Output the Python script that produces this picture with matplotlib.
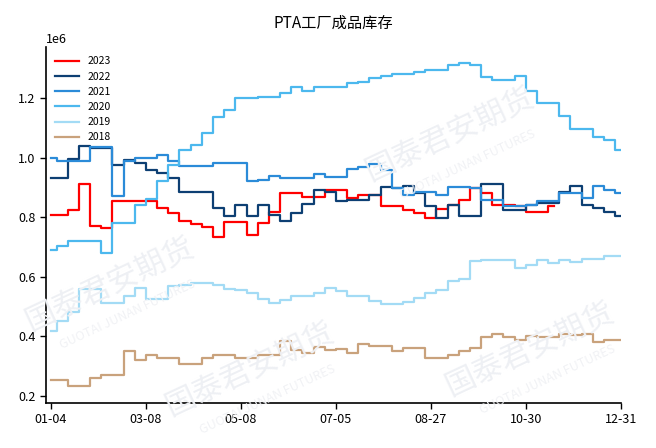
import numpy as np
import matplotlib
matplotlib.use("Agg")
import matplotlib.pyplot as plt

plt.rcParams['font.family'] = ['Noto Sans CJK SC', 'DejaVu Sans']
plt.rcParams['axes.unicode_minus'] = False

title = "PTA工厂成品库存"
tick_labels = ["01-04", "03-08", "05-08", "07-05", "08-27", "10-30", "12-31"]
n_weeks = 52

y2023 = [0.807, 0.807, 0.825, 0.910, 0.771, 0.765, 0.853, 0.853, 0.853, 0.855,
         0.830, 0.815, 0.786, 0.777, 0.767, 0.735, 0.785, 0.785, 0.741, 0.780,
         0.819, 0.881, 0.881, 0.869, 0.869, 0.892, 0.892, 0.864, 0.875, 0.875,
         0.836, 0.836, 0.825, 0.814, 0.797, 0.827, 0.842, 0.858, 0.897, 0.881,
         0.842, 0.842, 0.836, 0.819, 0.819, 0.836]
y2022 = [0.931, 0.931, 0.995, 1.040, 1.032, 1.032, 0.974, 0.992, 0.981, 0.959,
         0.948, 0.931, 0.883, 0.883, 0.883, 0.830, 0.805, 0.842, 0.805, 0.842,
         0.808, 0.786, 0.814, 0.845, 0.892, 0.886, 0.853, 0.858, 0.858, 0.875,
         0.901, 0.897, 0.903, 0.881, 0.838, 0.797, 0.842, 0.805, 0.805, 0.911,
         0.911, 0.825, 0.825, 0.842, 0.847, 0.847, 0.886, 0.905, 0.842, 0.830,
         0.819, 0.805]
y2021 = [0.998, 0.990, 0.990, 0.990, 1.035, 1.035, 0.872, 0.990, 0.998, 0.998,
         1.009, 0.987, 0.972, 0.972, 0.972, 0.981, 0.981, 0.981, 0.920, 0.925,
         0.939, 0.931, 0.931, 0.931, 0.945, 0.934, 0.934, 0.961, 0.968, 0.978,
         0.959, 0.897, 0.875, 0.883, 0.883, 0.875, 0.901, 0.901, 0.897, 0.858,
         0.858, 0.838, 0.836, 0.842, 0.853, 0.853, 0.881, 0.881, 0.864, 0.903,
         0.892, 0.881]
y2020 = [0.690, 0.702, 0.719, 0.719, 0.719, 0.680, 0.780, 0.780, 0.842, 0.860,
         0.920, 0.976, 1.026, 1.043, 1.084, 1.137, 1.160, 1.199, 1.199, 1.204,
         1.204, 1.218, 1.236, 1.224, 1.238, 1.238, 1.238, 1.249, 1.255, 1.266,
         1.274, 1.280, 1.280, 1.288, 1.294, 1.294, 1.311, 1.318, 1.311, 1.271,
         1.259, 1.259, 1.274, 1.224, 1.184, 1.184, 1.140, 1.095, 1.095, 1.068,
         1.059, 1.026]
y2019 = [0.417, 0.451, 0.481, 0.559, 0.559, 0.512, 0.512, 0.537, 0.562, 0.526,
         0.526, 0.568, 0.571, 0.579, 0.579, 0.574, 0.559, 0.557, 0.546, 0.526,
         0.512, 0.521, 0.537, 0.537, 0.546, 0.564, 0.551, 0.534, 0.534, 0.518,
         0.510, 0.510, 0.514, 0.529, 0.546, 0.557, 0.585, 0.593, 0.652, 0.657,
         0.655, 0.655, 0.629, 0.640, 0.657, 0.646, 0.655, 0.648, 0.660, 0.660,
         0.671, 0.671]
y2018 = [0.253, 0.253, 0.233, 0.233, 0.261, 0.272, 0.272, 0.352, 0.322, 0.339,
         0.328, 0.328, 0.308, 0.308, 0.328, 0.336, 0.336, 0.328, 0.328, 0.336,
         0.336, 0.384, 0.356, 0.345, 0.365, 0.356, 0.359, 0.345, 0.375, 0.369,
         0.369, 0.352, 0.360, 0.360, 0.328, 0.328, 0.339, 0.350, 0.361, 0.398,
         0.408, 0.398, 0.389, 0.400, 0.398, 0.398, 0.408, 0.404, 0.409, 0.380,
         0.387, 0.387]

years = ["2023", "2022", "2021", "2020", "2019", "2018"]
series = [y2023, y2022, y2021, y2020, y2019, y2018]
colors = ["#ff0000", "#0d3f73", "#2b8bd8", "#4cb8ee", "#a3dbf5", "#c9a27c"]

fig = plt.figure(figsize=(6.56, 4.48), dpi=100)

# faint watermarks
wm = [(110, 285), (450, 135), (250, 370), (530, 350)]
for (px, py) in wm:
    fig.text(px / 656, 1 - py / 448, "国泰君安期货", fontsize=22, rotation=25,
             color="#eef0f4", ha="center", va="center", zorder=0)
    fig.text((px + 18) / 656, 1 - (py + 30) / 448, "GUOTAI JUNAN FUTURES",
             fontsize=9, rotation=25, color="#f1f2f5", ha="center",
             va="center", zorder=0)

ax = fig.add_axes([46 / 656, 1 - 403 / 448, (620.7 - 46) / 656, (403 - 47) / 448])
ax.patch.set_alpha(0)

for yr, vals, c in zip(years, series, colors):
    x = np.arange(len(vals))
    ax.plot(x, np.array(vals) * 1e6, color=c, lw=1.6, drawstyle="steps-mid",
            label=yr)

ax.set_xlim(-0.45, n_weeks - 1)
ax.set_ylim(0.1766e6, 1.371e6)
ticks = np.linspace(0, n_weeks - 1, len(tick_labels))
ax.set_xticks(ticks)
ax.set_xticklabels(tick_labels)
ax.set_yticks([0.2e6, 0.4e6, 0.6e6, 0.8e6, 1.0e6, 1.2e6])
ax.ticklabel_format(axis="y", style="sci", scilimits=(0, 0), useMathText=False)
ax.tick_params(labelsize=9, length=4, width=1, colors="black")
ax.yaxis.get_offset_text().set_fontsize(9)

for s in ["top", "right"]:
    ax.spines[s].set_visible(False)
for s in ["left", "bottom"]:
    ax.spines[s].set_linewidth(1.2)

ax.set_title(title, fontsize=11, pad=14)
ax.legend(loc="upper left", frameon=False, fontsize=7.5, handlelength=2.3)

fig.savefig("out.png", dpi=100)
